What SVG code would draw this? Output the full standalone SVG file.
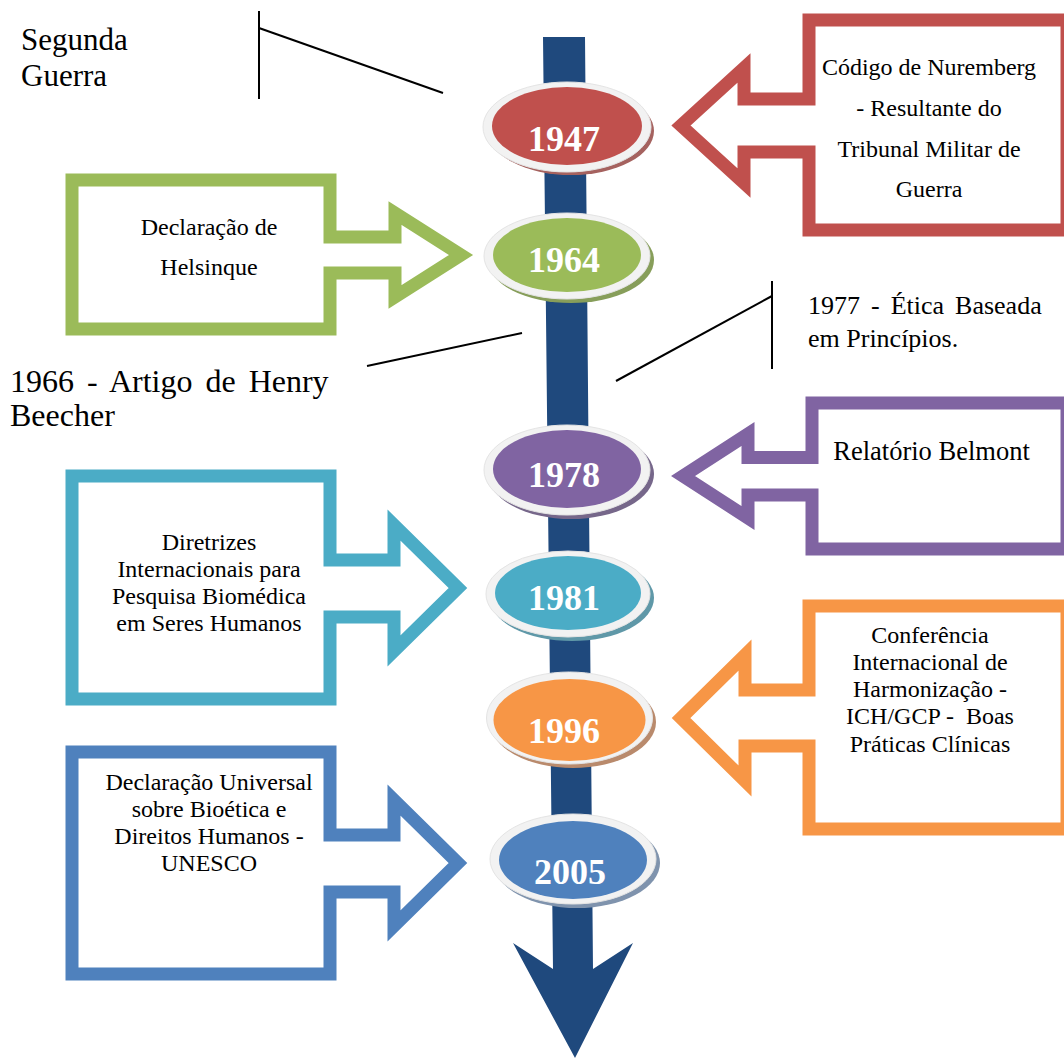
<svg xmlns="http://www.w3.org/2000/svg" width="1064" height="1059" viewBox="0 0 1064 1059">
<style>
  .callout { fill: #ffffff; stroke-width: 13; stroke-linejoin: miter; stroke-miterlimit: 10; }
  .t { font-family: "Liberation Serif", "Times New Roman", serif; fill: #000000; }
  .box { font-size: 24px; text-anchor: middle; }
  .free { font-size: 31px; }
  .year { font-family: "Liberation Serif", "Times New Roman", serif; font-weight: bold; font-size: 36px; fill: #ffffff; text-anchor: middle; }
  .ring { fill: #f2f2f2; stroke: #e4e4e4; stroke-width: 1; }
  .ln { stroke: #000000; stroke-width: 2; fill: none; }
</style>
<rect width="1064" height="1059" fill="#ffffff"/>

<g id="connectors">
  <polygon id="spine" points="543,37 585,37 593,969 633,943 575,1058 513,943 553,969" fill="#1F497D"/>
  <line class="ln" x1="259" y1="11" x2="259" y2="99"/>
  <line class="ln" x1="259" y1="28" x2="443" y2="93"/>
  <line class="ln" x1="367" y1="366" x2="522" y2="333"/>
  <line class="ln" x1="772" y1="281" x2="772" y2="369"/>
  <line class="ln" x1="616" y1="381" x2="772" y2="296"/>
</g>

<g id="label-segunda-guerra">
  <text class="t free" x="21" y="50">Segunda</text>
  <text class="t free" x="21" y="86">Guerra</text>
</g>
<g id="label-1966">
  <text class="t" font-size="32" x="10" y="392" word-spacing="5">1966 - Artigo de Henry</text>
  <text class="t" font-size="32" x="10" y="426">Beecher</text>
</g>
<g id="label-1977">
  <text class="t" font-size="26" x="808" y="314" word-spacing="4.5">1977 - Ética Baseada</text>
  <text class="t" font-size="26" x="808" y="347">em Princípios.</text>
</g>

<g id="node-nuremberg">
  <path class="callout" stroke="#C0504D" d="M1067,20 H809 V99 H744 V68 L681,125.5 L744,183 V152 H809 V230 H1067 Z"/>
  <text class="t box" x="929" y="75">Código de Nuremberg</text>
  <text class="t box" x="929" y="116">- Resultante do</text>
  <text class="t box" x="929" y="157">Tribunal Militar de</text>
  <text class="t box" x="929" y="197">Guerra</text>
</g>

<g id="node-helsinque">
  <path class="callout" stroke="#9BBB59" d="M72,180 H330 V237 H395 V213 L461,255 L395,297 V273 H330 V329 H72 Z"/>
  <text class="t box" x="209" y="235">Declaração de</text>
  <text class="t box" x="209" y="275">Helsinque</text>
</g>

<g id="node-belmont">
  <path class="callout" stroke="#8064A2" d="M1067,403 H812 V457.5 H748 V434 L683,476 L748,518 V495 H812 V549 H1067 Z"/>
  <text class="t" font-size="26.5" text-anchor="middle" x="931.5" y="460">Relatório Belmont</text>
</g>

<g id="node-diretrizes">
  <path class="callout" stroke="#4BACC6" d="M72,476 H330 V560 H394 V525 L458,588 L394,651 V617 H330 V699 H72 Z"/>
  <text class="t box" x="209" y="550">Diretrizes</text>
  <text class="t box" x="209" y="577">Internacionais para</text>
  <text class="t box" x="209" y="604">Pesquisa Biomédica</text>
  <text class="t box" x="209" y="631">em Seres Humanos</text>
</g>

<g id="node-ich">
  <path class="callout" stroke="#F79646" d="M1067,606 H809 V690 H745 V655 L681,718 L745,781 V746 H809 V829 H1067 Z"/>
  <text class="t box" x="930" y="643">Conferência</text>
  <text class="t box" x="930" y="670">Internacional de</text>
  <text class="t box" x="930" y="697">Harmonização -</text>
  <text class="t box" x="930" y="724" style="white-space:pre">ICH/GCP -  Boas</text>
  <text class="t box" x="930" y="752">Práticas Clínicas</text>
</g>

<g id="node-unesco">
  <path class="callout" stroke="#4F81BD" d="M72,752 H330 V835 H394 V800 L458,863 L394,926 V892 H330 V974 H72 Z"/>
  <text class="t box" x="209" y="790">Declaração Universal</text>
  <text class="t box" x="209" y="817">sobre Bioética e</text>
  <text class="t box" x="209" y="844">Direitos Humanos -</text>
  <text class="t box" x="209" y="871">UNESCO</text>
</g>

<g id="year-1947">
  <ellipse cx="571" cy="131" rx="83" ry="44" fill="#a5625f"/>
  <ellipse class="ring" cx="567" cy="127" rx="84" ry="45"/>
  <ellipse cx="567" cy="126" rx="75" ry="39" fill="#C0504D"/>
  <text class="year" x="564" y="151">1947</text>
</g>
<g id="year-1964">
  <ellipse cx="571" cy="260" rx="83" ry="43" fill="#879e5a"/>
  <ellipse class="ring" cx="567" cy="256" rx="83" ry="43"/>
  <ellipse cx="567" cy="255" rx="74" ry="37" fill="#9BBB59"/>
  <text class="year" x="564" y="272">1964</text>
</g>
<g id="year-1978">
  <ellipse cx="571" cy="474" rx="83" ry="45" fill="#76678a"/>
  <ellipse class="ring" cx="567" cy="470" rx="83" ry="45"/>
  <ellipse cx="567" cy="469" rx="74" ry="39" fill="#8064A2"/>
  <text class="year" x="564" y="487">1978</text>
</g>
<g id="year-1981">
  <ellipse cx="572" cy="598" rx="82" ry="43" fill="#5f98a8"/>
  <ellipse class="ring" cx="568" cy="594" rx="82" ry="43"/>
  <ellipse cx="568" cy="593" rx="73" ry="37" fill="#4BACC6"/>
  <text class="year" x="564" y="610">1981</text>
</g>
<g id="year-1996">
  <ellipse cx="573" cy="722" rx="83" ry="46" fill="#b98a6c"/>
  <ellipse class="ring" cx="569.5" cy="718" rx="83" ry="46"/>
  <ellipse cx="569.5" cy="720" rx="76" ry="41" fill="#F79646"/>
  <text class="year" x="564" y="743">1996</text>
</g>
<g id="year-2005">
  <ellipse cx="577" cy="863" rx="83" ry="45" fill="#7f93ad"/>
  <ellipse class="ring" cx="573" cy="859" rx="83" ry="45"/>
  <ellipse cx="573" cy="860" rx="74" ry="39" fill="#4F81BD"/>
  <text class="year" x="570" y="884">2005</text>
</g>
</svg>
